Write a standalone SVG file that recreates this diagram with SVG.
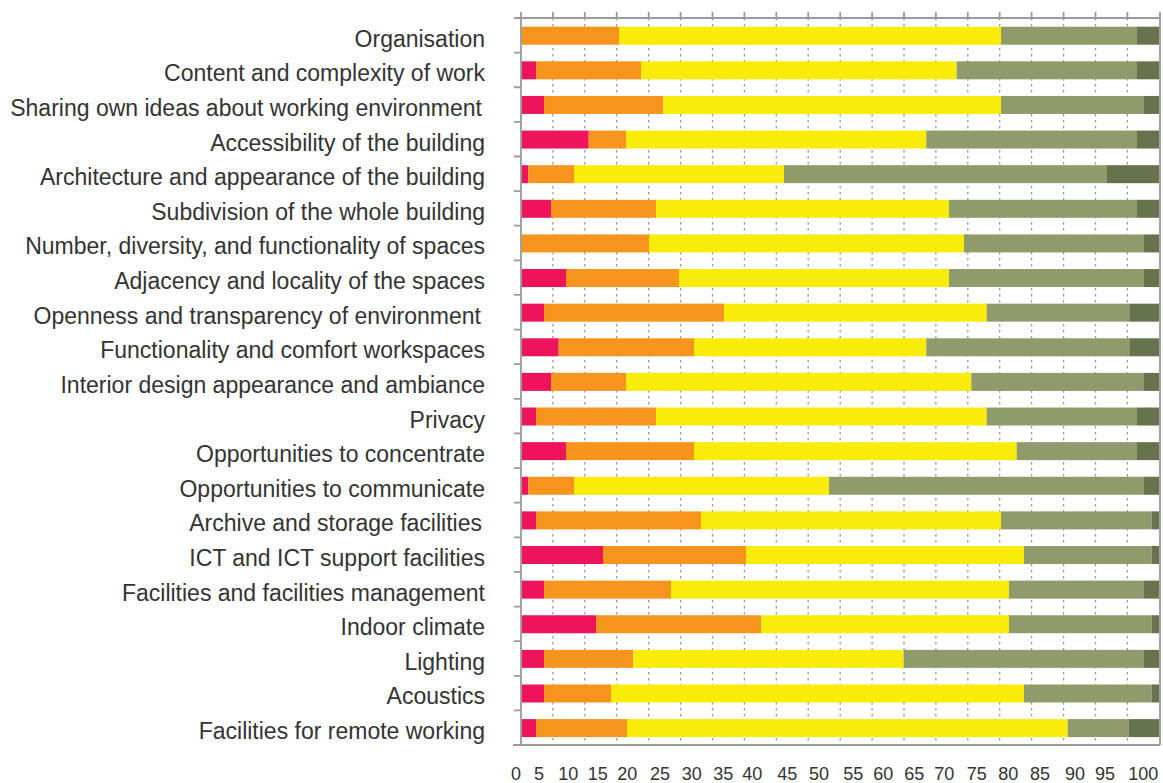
<svg xmlns="http://www.w3.org/2000/svg" width="1163" height="783" viewBox="0 0 1163 783">
<style>
.lbl{font-family:"Liberation Sans",Arial,sans-serif;font-size:23px;fill:#333333;text-anchor:end}
.ax{font-family:"Liberation Sans",Arial,sans-serif;font-size:18px;fill:#333333;text-anchor:middle}
.r{fill:#ED145B}.o{fill:#F7941D}.y{fill:#F9EC0B}.g{fill:#8F9B6A}.d{fill:#67734D}
.grid{stroke:#9a9a9a;stroke-width:1.3;stroke-dasharray:2.5 3.5;fill:none}
.axis{stroke:#9a9a9a;stroke-width:1.8;fill:none}
</style>
<rect width="1163" height="783" fill="#ffffff"/>
<g id="grid">
<path class="grid" d="M552.9 18V745M584.8 18V745M616.7 18V745M648.7 18V745M680.6 18V745M712.5 18V745M744.4 18V745M776.3 18V745M808.2 18V745M840.2 18V745M872.1 18V745M904 18V745M935.9 18V745M967.8 18V745M999.7 18V745M1031.6 18V745M1063.6 18V745M1095.5 18V745M1127.4 18V745"/>
</g>
<g id="bars">
<g id="row1" transform="translate(0,26.7)"><text class="lbl" x="485" y="20">Organisation</text><rect class="o" x="521.5" y="0" width="97.5" height="18"/><rect class="y" x="619" y="0" width="382" height="18"/><rect class="g" x="1001" y="0" width="136" height="18"/><rect class="d" x="1137" y="0" width="22" height="18"/></g>
<g id="row2" transform="translate(0,61.32)"><text class="lbl" x="485" y="20">Content and complexity of work</text><rect class="r" x="521.5" y="0" width="14.5" height="18"/><rect class="o" x="536" y="0" width="105" height="18"/><rect class="y" x="641" y="0" width="315.7" height="18"/><rect class="g" x="956.7" y="0" width="180.3" height="18"/><rect class="d" x="1137" y="0" width="22" height="18"/></g>
<g id="row3" transform="translate(0,95.94)"><text class="lbl" x="482" y="20">Sharing own ideas about working environment</text><rect class="r" x="521.5" y="0" width="22.5" height="18"/><rect class="o" x="544" y="0" width="119.3" height="18"/><rect class="y" x="663.3" y="0" width="337.7" height="18"/><rect class="g" x="1001" y="0" width="143" height="18"/><rect class="d" x="1144" y="0" width="15" height="18"/></g>
<g id="row4" transform="translate(0,130.56)"><text class="lbl" x="485" y="20">Accessibility of the building</text><rect class="r" x="521.5" y="0" width="67.2" height="18"/><rect class="o" x="588.7" y="0" width="37.3" height="18"/><rect class="y" x="626" y="0" width="300.3" height="18"/><rect class="g" x="926.3" y="0" width="210.7" height="18"/><rect class="d" x="1137" y="0" width="22" height="18"/></g>
<g id="row5" transform="translate(0,165.18)"><text class="lbl" x="485" y="20">Architecture and appearance of the building</text><rect class="r" x="521.5" y="0" width="6.8" height="18"/><rect class="o" x="528.3" y="0" width="45.7" height="18"/><rect class="y" x="574" y="0" width="210" height="18"/><rect class="g" x="784" y="0" width="323" height="18"/><rect class="d" x="1107" y="0" width="52" height="18"/></g>
<g id="row6" transform="translate(0,199.8)"><text class="lbl" x="485" y="20">Subdivision of the whole building</text><rect class="r" x="521.5" y="0" width="29.5" height="18"/><rect class="o" x="551" y="0" width="105" height="18"/><rect class="y" x="656" y="0" width="293" height="18"/><rect class="g" x="949" y="0" width="188" height="18"/><rect class="d" x="1137" y="0" width="22" height="18"/></g>
<g id="row7" transform="translate(0,234.42)"><text class="lbl" x="485" y="20">Number, diversity, and functionality of spaces</text><rect class="o" x="521.5" y="0" width="127.5" height="18"/><rect class="y" x="649" y="0" width="315" height="18"/><rect class="g" x="964" y="0" width="180" height="18"/><rect class="d" x="1144" y="0" width="15" height="18"/></g>
<g id="row8" transform="translate(0,269.04)"><text class="lbl" x="485" y="20">Adjacency and locality of the spaces</text><rect class="r" x="521.5" y="0" width="44.5" height="18"/><rect class="o" x="566" y="0" width="113" height="18"/><rect class="y" x="679" y="0" width="270" height="18"/><rect class="g" x="949" y="0" width="195" height="18"/><rect class="d" x="1144" y="0" width="15" height="18"/></g>
<g id="row9" transform="translate(0,303.66)"><text class="lbl" x="481" y="20">Openness and transparency of environment</text><rect class="r" x="521.5" y="0" width="22.5" height="18"/><rect class="o" x="544" y="0" width="180" height="18"/><rect class="y" x="724" y="0" width="262.7" height="18"/><rect class="g" x="986.7" y="0" width="142.6" height="18"/><rect class="d" x="1129.3" y="0" width="29.7" height="18"/></g>
<g id="row10" transform="translate(0,338.28)"><text class="lbl" x="485" y="20">Functionality and comfort workspaces</text><rect class="r" x="521.5" y="0" width="37.2" height="18"/><rect class="o" x="558.7" y="0" width="135.3" height="18"/><rect class="y" x="694" y="0" width="232.3" height="18"/><rect class="g" x="926.3" y="0" width="203" height="18"/><rect class="d" x="1129.3" y="0" width="29.7" height="18"/></g>
<g id="row11" transform="translate(0,372.9)"><text class="lbl" x="485" y="20">Interior design appearance and ambiance</text><rect class="r" x="521.5" y="0" width="29.5" height="18"/><rect class="o" x="551" y="0" width="75" height="18"/><rect class="y" x="626" y="0" width="345.3" height="18"/><rect class="g" x="971.3" y="0" width="172.7" height="18"/><rect class="d" x="1144" y="0" width="15" height="18"/></g>
<g id="row12" transform="translate(0,407.52)"><text class="lbl" x="485" y="20">Privacy</text><rect class="r" x="521.5" y="0" width="14.5" height="18"/><rect class="o" x="536" y="0" width="120" height="18"/><rect class="y" x="656" y="0" width="330.7" height="18"/><rect class="g" x="986.7" y="0" width="150.3" height="18"/><rect class="d" x="1137" y="0" width="22" height="18"/></g>
<g id="row13" transform="translate(0,442.14)"><text class="lbl" x="485" y="20">Opportunities to concentrate</text><rect class="r" x="521.5" y="0" width="44.5" height="18"/><rect class="o" x="566" y="0" width="128" height="18"/><rect class="y" x="694" y="0" width="322.7" height="18"/><rect class="g" x="1016.7" y="0" width="120.3" height="18"/><rect class="d" x="1137" y="0" width="22" height="18"/></g>
<g id="row14" transform="translate(0,476.76)"><text class="lbl" x="485" y="20">Opportunities to communicate</text><rect class="r" x="521.5" y="0" width="6.8" height="18"/><rect class="o" x="528.3" y="0" width="45.7" height="18"/><rect class="y" x="574" y="0" width="255" height="18"/><rect class="g" x="829" y="0" width="315" height="18"/><rect class="d" x="1144" y="0" width="15" height="18"/></g>
<g id="row15" transform="translate(0,511.38)"><text class="lbl" x="482" y="20">Archive and storage facilities</text><rect class="r" x="521.5" y="0" width="14.5" height="18"/><rect class="o" x="536" y="0" width="165" height="18"/><rect class="y" x="701" y="0" width="300" height="18"/><rect class="g" x="1001" y="0" width="150.7" height="18"/><rect class="d" x="1151.7" y="0" width="7.3" height="18"/></g>
<g id="row16" transform="translate(0,546)"><text class="lbl" x="485" y="20">ICT and ICT support facilities</text><rect class="r" x="521.5" y="0" width="81.5" height="18"/><rect class="o" x="603" y="0" width="143" height="18"/><rect class="y" x="746" y="0" width="278" height="18"/><rect class="g" x="1024" y="0" width="127.7" height="18"/><rect class="d" x="1151.7" y="0" width="7.3" height="18"/></g>
<g id="row17" transform="translate(0,580.62)"><text class="lbl" x="485" y="20">Facilities and facilities management</text><rect class="r" x="521.5" y="0" width="22.5" height="18"/><rect class="o" x="544" y="0" width="127" height="18"/><rect class="y" x="671" y="0" width="338" height="18"/><rect class="g" x="1009" y="0" width="135" height="18"/><rect class="d" x="1144" y="0" width="15" height="18"/></g>
<g id="row18" transform="translate(0,615.24)"><text class="lbl" x="485" y="20">Indoor climate</text><rect class="r" x="521.5" y="0" width="74.5" height="18"/><rect class="o" x="596" y="0" width="165" height="18"/><rect class="y" x="761" y="0" width="248" height="18"/><rect class="g" x="1009" y="0" width="142.7" height="18"/><rect class="d" x="1151.7" y="0" width="7.3" height="18"/></g>
<g id="row19" transform="translate(0,649.86)"><text class="lbl" x="485" y="20">Lighting</text><rect class="r" x="521.5" y="0" width="22.5" height="18"/><rect class="o" x="544" y="0" width="89.3" height="18"/><rect class="y" x="633.3" y="0" width="270.4" height="18"/><rect class="g" x="903.7" y="0" width="240.3" height="18"/><rect class="d" x="1144" y="0" width="15" height="18"/></g>
<g id="row20" transform="translate(0,684.48)"><text class="lbl" x="485" y="20">Acoustics</text><rect class="r" x="521.5" y="0" width="22.5" height="18"/><rect class="o" x="544" y="0" width="67" height="18"/><rect class="y" x="611" y="0" width="413" height="18"/><rect class="g" x="1024" y="0" width="127.7" height="18"/><rect class="d" x="1151.7" y="0" width="7.3" height="18"/></g>
<g id="row21" transform="translate(0,719.1)"><text class="lbl" x="485" y="20">Facilities for remote working</text><rect class="r" x="521.5" y="0" width="14.5" height="18"/><rect class="o" x="536" y="0" width="91" height="18"/><rect class="y" x="627" y="0" width="440.7" height="18"/><rect class="g" x="1067.7" y="0" width="61" height="18"/><rect class="d" x="1128.7" y="0" width="30.3" height="18"/></g>
</g>
<g id="axes">
<path class="axis" d="M521 12V745M1160 12V745M513 745H1160M521 18H1160"/>
<path class="axis" d="M552.9 12V18M584.8 12V18M616.7 12V18M648.7 12V18M680.6 12V18M712.5 12V18M744.4 12V18M776.3 12V18M808.2 12V18M840.2 12V18M872.1 12V18M904 12V18M935.9 12V18M967.8 12V18M999.7 12V18M1031.6 12V18M1063.6 12V18M1095.5 12V18M1127.4 12V18"/>
<path class="axis" d="M514 18H521M514 52.62H521M514 87.24H521M514 121.86H521M514 156.48H521M514 191.1H521M514 225.72H521M514 260.34H521M514 294.96H521M514 329.58H521M514 364.2H521M514 398.82H521M514 433.44H521M514 468.06H521M514 502.68H521M514 537.3H521M514 571.92H521M514 606.54H521M514 641.16H521M514 675.78H521M514 710.4H521"/>
<g id="xlabels">
<text class="ax" x="516" y="780">0</text>
<text class="ax" x="539" y="780">5</text>
<text class="ax" x="568.3" y="780">10</text>
<text class="ax" x="597.7" y="780">15</text>
<text class="ax" x="627.3" y="780">20</text>
<text class="ax" x="660" y="780">25</text>
<text class="ax" x="691.7" y="780">30</text>
<text class="ax" x="723.3" y="780">35</text>
<text class="ax" x="752.3" y="780">40</text>
<text class="ax" x="787.3" y="780">45</text>
<text class="ax" x="819" y="780">50</text>
<text class="ax" x="853.3" y="780">55</text>
<text class="ax" x="883.3" y="780">60</text>
<text class="ax" x="914.3" y="780">65</text>
<text class="ax" x="944.3" y="780">70</text>
<text class="ax" x="976.7" y="780">75</text>
<text class="ax" x="1008.3" y="780">80</text>
<text class="ax" x="1040" y="780">85</text>
<text class="ax" x="1075" y="780">90</text>
<text class="ax" x="1105" y="780">95</text>
<text class="ax" x="1143.3" y="780">100</text>
</g>
</g>
</svg>
